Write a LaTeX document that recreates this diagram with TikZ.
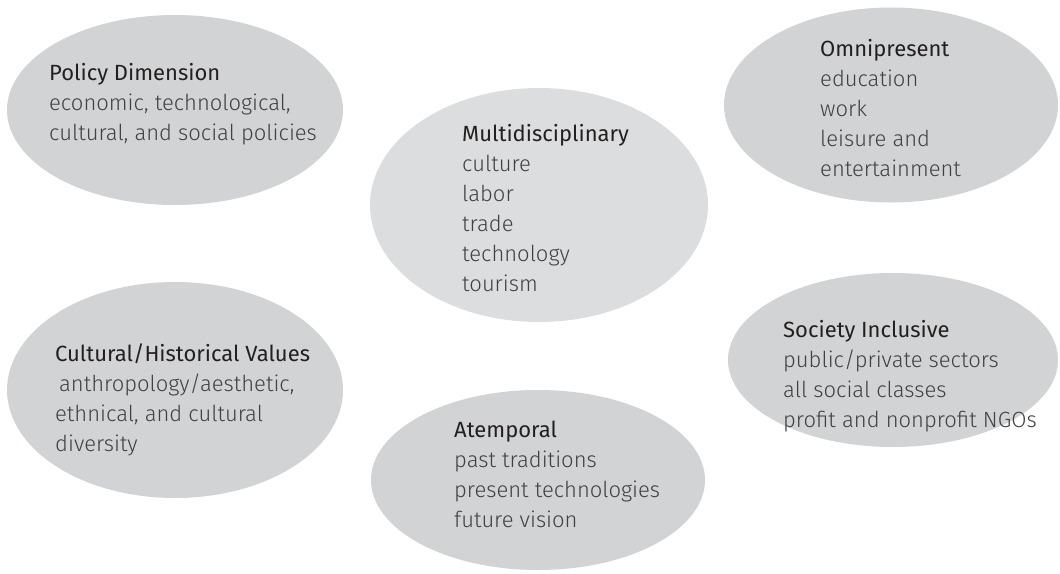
\documentclass[tikz,border=0pt]{standalone}
\usepackage{fontspec}
\setmainfont{Fira Sans}
\newfontfamily\titlefont{Fira Sans}
\IfFontExistsTF{Fira Sans Light}{\newfontfamily\bodyfont{Fira Sans Light}}{\newfontfamily\bodyfont{Fira Sans}}
\usetikzlibrary{shapes.geometric}
\definecolor{ellgray}{RGB}{209,211,212}
\definecolor{ellmid}{RGB}{220,221,222}
\definecolor{titlecol}{RGB}{35,31,32}
\definecolor{bodycol}{RGB}{65,64,66}
\begin{document}
\begin{tikzpicture}[x=1pt,y=-1pt,
  blob/.style={ellipse, fill=ellgray, draw=none, inner sep=0pt},
  txt/.style={anchor=base west, inner sep=0pt, align=left,
    font=\bodyfont\fontsize{22}{30}\selectfont, text=bodycol}]
\useasboundingbox (0,0) rectangle (1060,573);
\newcommand{\ttl}[1]{{\titlefont\color{titlecol}#1}}
% ellipses
\node[blob, minimum width=336pt, minimum height=190pt] (policy) at (175,110) {};
\node[blob, fill=ellmid, minimum width=338pt, minimum height=234pt] (multi) at (539,205) {};
\node[blob, minimum width=334pt, minimum height=195pt] (omni) at (891,105) {};
\node[blob, minimum width=336pt, minimum height=216pt] (cult) at (175,390) {};
\node[blob, minimum width=330pt, minimum height=174pt] (soc) at (893,360) {};
\node[blob, minimum width=334pt, minimum height=180pt] (atemp) at (538,480) {};
% texts (anchored at the baseline of their last line)
\node[txt] (policyt) at (49,140) {\ttl{Policy Dimension}\\economic, technological,\\cultural, and social policies};
\node[txt] (multit) at (462,291) {\ttl{Multidisciplinary}\\culture\\labor\\trade\\technology\\tourism};
\node[txt] (omnit) at (820,176) {\ttl{Omnipresent}\\education\\work\\leisure and\\entertainment};
\node[txt] (cultt) at (55,451) {\ttl{Cultural/Historical Values}\\\hspace*{4pt}anthropology/aesthetic,\\ethnical, and cultural\\diversity};
\node[txt] (soct) at (783,427) {\ttl{Society Inclusive}\\public/private sectors\\all social classes\\profit and nonprofit NGOs};
\node[txt] (atempt) at (454,527) {\ttl{Atemporal}\\past traditions\\present technologies\\future vision};
\end{tikzpicture}
\end{document}
